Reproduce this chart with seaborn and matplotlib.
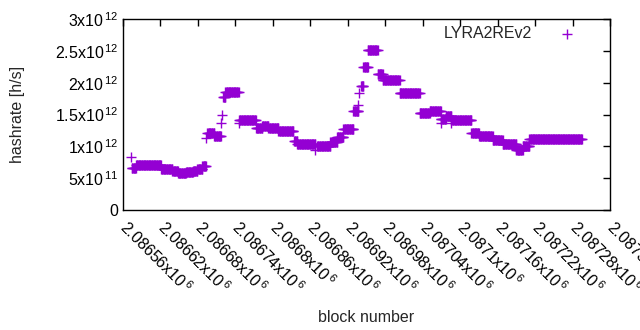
import numpy as np
import pandas as pd
import matplotlib
matplotlib.use("Agg")
import matplotlib.pyplot as plt
import matplotlib.ticker as mticker
import seaborn as sns

# ── Data ─────────────────────────────────────────────────────────────────────
# hashrate is piecewise constant between difficulty retargets: one point per block
seg_start = [2086574, 2086581, 2086621, 2086639, 2086648, 2086661, 2086672, 2086679,
             2086687, 2086695, 2086706, 2086720, 2086724, 2086746, 2086773, 2086783,
             2086793, 2086809, 2086834, 2086839, 2086871, 2086892, 2086903, 2086913,
             2086929, 2086941, 2086945, 2086952, 2086968, 2086976, 2087003, 2087035,
             2087051, 2087069, 2087077, 2087086, 2087118, 2087130, 2087152, 2087168,
             2087190, 2087200, 2087211]
seg_end = [2086581, 2086621, 2086639, 2086648, 2086661, 2086672, 2086679, 2086687,
           2086693, 2086706, 2086717, 2086724, 2086745, 2086773, 2086783, 2086793,
           2086809, 2086833, 2086839, 2086868, 2086892, 2086903, 2086913, 2086929,
           2086937, 2086945, 2086952, 2086968, 2086976, 2087003, 2087035, 2087051,
           2087069, 2087077, 2087086, 2087118, 2087130, 2087152, 2087168, 2087190,
           2087200, 2087211, 2087295]
seg_rate = [0.66, 0.71, 0.64, 0.61, 0.58, 0.60, 0.62, 0.65,
            0.69, 1.21, 1.17, 1.78, 1.86, 1.42, 1.29, 1.32,
            1.29, 1.24, 1.08, 1.03, 1.01, 1.07, 1.14, 1.28,
            1.55, 1.95, 2.25, 2.52, 2.13, 2.04, 1.84, 1.53,
            1.56, 1.43, 1.47, 1.42, 1.21, 1.17, 1.10, 1.04,
            0.94, 1.01, 1.12]  # x10^12 h/s

# isolated blocks off the plateaus
odd_block = [2086573, 2086693, 2086717, 2086719, 2086745, 2086868,
             2086937, 2086938, 2087069, 2087086, 2087190]
odd_rate = [0.83, 1.13, 1.37, 1.49, 1.37, 0.94,
            1.65, 1.84, 1.37, 1.37, 0.96]

blocks, rates = [], []
for s, e, r in zip(seg_start, seg_end, seg_rate):
    n = e - s + 1
    blocks.extend(range(s, e + 1))
    rates.extend([r * 1e12] * n)
blocks.extend(odd_block)
rates.extend([r * 1e12 for r in odd_rate])
df = pd.DataFrame({"block": blocks, "hashrate": rates})

# ── Style ────────────────────────────────────────────────────────────────────
PURPLE = "#9400D3"
sns.set_style("white")
plt.rcParams["font.family"] = ["Liberation Sans", "DejaVu Sans"]
plt.rcParams["mathtext.fontset"] = "custom"
plt.rcParams["mathtext.rm"] = "Liberation Sans"
plt.rcParams["mathtext.it"] = "Liberation Sans"
plt.rcParams["font.size"] = 11.5

fig = plt.figure(figsize=(6.4, 3.3), dpi=100)
ax = fig.add_axes([123 / 640, 1 - 210 / 330, (610 - 123) / 640, (210 - 19) / 330])

sns.scatterplot(data=df, x="block", y="hashrate", marker="+", s=50,
                color=PURPLE, linewidth=1, ax=ax, label="LYRA2REv2")

ax.set_xlim(2086560, 2087340)
ax.set_ylim(0, 3e12)
ax.set_xticks(np.arange(2086560, 2087341, 60))
ax.set_yticks(np.arange(0, 3.01e12, 5e11))


def xfmt(v, pos):
    return r"$\mathregular{%gx10^{\,6}}$" % (v / 1e6)


def yfmt(v, pos):
    if v == 0:
        return "0"
    exp = int(np.floor(np.log10(v)))
    return r"$\mathregular{%gx10^{\,%d}}$" % (v / 10 ** exp, exp)


ax.xaxis.set_major_formatter(mticker.FuncFormatter(xfmt))
ax.yaxis.set_major_formatter(mticker.FuncFormatter(yfmt))
ax.tick_params(direction="in", length=5, width=1, top=True, right=True,
               colors="black", labelsize=11.5)
ax.tick_params(axis="x", pad=10)
for lbl in ax.get_xticklabels():
    lbl.set_rotation(-45)
    lbl.set_rotation_mode("anchor")
    lbl.set_ha("left")
    lbl.set_va("center")

for sp in ax.spines.values():
    sp.set_color("black")
    sp.set_linewidth(1)

ax.set_xlabel("block number", labelpad=10)
ax.set_ylabel("hashrate [h/s]", labelpad=21)

leg = ax.legend(loc="upper right", bbox_to_anchor=(0.965, 1.015), frameon=False,
                markerfirst=False, scatterpoints=1, handletextpad=1.2,
                borderaxespad=0.2, fontsize=11.5)

fig.savefig("out.png", dpi=100)
